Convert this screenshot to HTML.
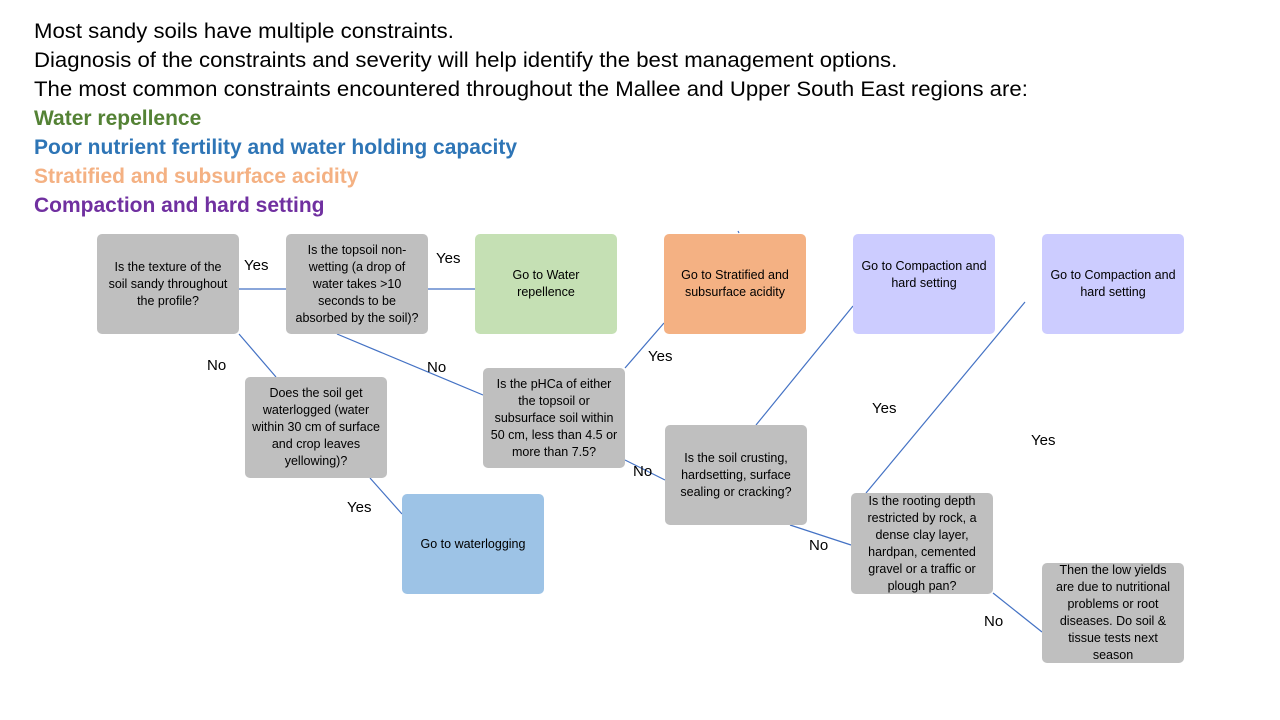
<!DOCTYPE html>
<html><head><meta charset="utf-8"><style>
body{margin:0;width:1280px;height:720px;background:#fff;position:relative;overflow:hidden;font-family:"Liberation Sans",sans-serif}
.h{position:absolute;left:34px;font-size:21px;white-space:nowrap;transform:scaleX(1.055);transform-origin:left center;line-height:24px}
.k{font-weight:bold;transform:scaleX(1.0)}
.b{position:absolute;width:142px;height:100px;border-radius:5px;display:flex;align-items:center;justify-content:center;text-align:center;font-size:12.5px;line-height:17px;color:#000;box-sizing:border-box;padding:0 7px}
.g{background:#bfbfbf}
.l{position:absolute;font-size:15px;color:#000}
</style></head><body>
<div class="h" style="top:20px">Most sandy soils have multiple constraints.</div>
<div class="h" style="top:49px">Diagnosis of the constraints and severity will help identify the best management options.</div>
<div class="h" style="top:78px">The most common constraints encountered throughout the Mallee and Upper South East regions are:</div>
<div class="h k" style="top:107px;color:#548235">Water repellence</div>
<div class="h k" style="top:136px;color:#2e75b6">Poor nutrient fertility and water holding capacity</div>
<div class="h k" style="top:165px;color:#f4b183">Stratified and subsurface acidity</div>
<div class="h k" style="top:194px;color:#7030a0">Compaction and hard setting</div>

<svg style="position:absolute;left:0;top:0" width="1280" height="720">
<g stroke="#4472c4" stroke-width="1.2">
<line x1="239" y1="289" x2="286" y2="289"/>
<line x1="428" y1="289" x2="475" y2="289"/>
<line x1="239" y1="334" x2="276" y2="377"/>
<line x1="337" y1="334" x2="483" y2="395"/>
<line x1="370" y1="478" x2="402" y2="514"/>
<line x1="625" y1="368" x2="664" y2="323"/>
<line x1="625" y1="460" x2="665" y2="480"/>
<line x1="756" y1="425" x2="853" y2="306"/>
<line x1="790" y1="525" x2="851" y2="545"/>
<line x1="866" y1="493" x2="1025" y2="302"/>
<line x1="993" y1="593" x2="1042" y2="632"/>
<line x1="738" y1="231" x2="739" y2="233"/>
</g></svg>

<div class="b g" style="left:97px;top:234px">Is the texture of the soil sandy throughout the profile?</div>
<div class="b g" style="left:286px;top:234px">Is the topsoil non-wetting (a drop of water takes &gt;10 seconds to be absorbed by the soil)?</div>
<div class="b" style="left:475px;top:234px;background:#c5e0b4;padding:0 20px">Go to Water repellence</div>
<div class="b" style="left:664px;top:234px;background:#f4b183">Go to Stratified and subsurface acidity</div>
<div class="b" style="left:853px;top:234px;background:#ccccff;align-items:flex-start;padding-top:24px">Go to Compaction and hard setting</div>
<div class="b" style="left:1042px;top:234px;background:#ccccff">Go to Compaction and hard setting</div>
<div class="b g" style="left:245px;top:377px;height:101px">Does the soil get waterlogged (water within 30 cm of surface and crop leaves yellowing)?</div>
<div class="b g" style="left:483px;top:368px">Is the pHCa of either the topsoil or subsurface soil within 50 cm, less than 4.5 or more than 7.5?</div>
<div class="b" style="left:402px;top:494px;background:#9dc3e6">Go to waterlogging</div>
<div class="b g" style="left:665px;top:425px">Is the soil crusting, hardsetting, surface sealing or cracking?</div>
<div class="b g" style="left:851px;top:493px;height:101px;padding:0 4px">Is the rooting depth restricted by rock, a dense clay layer, hardpan, cemented gravel or a traffic or plough pan?</div>
<div class="b g" style="left:1042px;top:563px">Then the low yields are due to nutritional problems or root diseases. Do soil &amp; tissue tests next season</div>

<div class="l" style="left:244px;top:257px">Yes</div>
<div class="l" style="left:436px;top:250px">Yes</div>
<div class="l" style="left:207px;top:357px">No</div>
<div class="l" style="left:427px;top:359px">No</div>
<div class="l" style="left:347px;top:499px">Yes</div>
<div class="l" style="left:648px;top:348px">Yes</div>
<div class="l" style="left:633px;top:463px">No</div>
<div class="l" style="left:872px;top:400px">Yes</div>
<div class="l" style="left:1031px;top:432px">Yes</div>
<div class="l" style="left:809px;top:537px">No</div>
<div class="l" style="left:984px;top:613px">No</div>
</body></html>
